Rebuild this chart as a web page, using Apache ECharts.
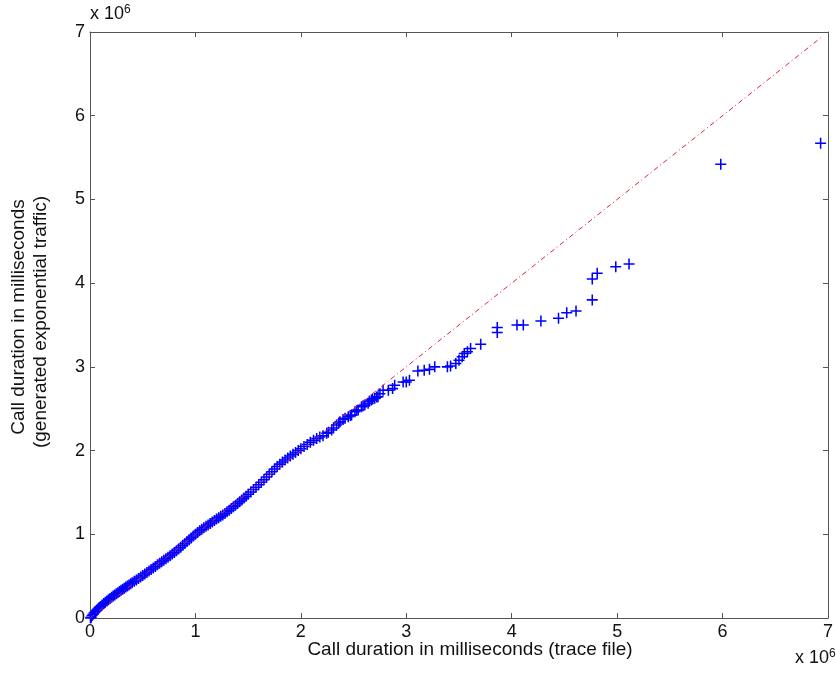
<!DOCTYPE html>
<html>
<head>
<meta charset="utf-8">
<script src="https://cdn.jsdelivr.net/npm/echarts@6/dist/echarts.min.js"></script>
<style>
  html, body { margin: 0; padding: 0; background: #fff; }
  #chart { width: 836px; height: 673px; }
</style>
</head>
<body>
<div id="chart"></div>
<script>
// Quantiles of the trace-file call durations (x 10^6 ms)
var traceQuantiles = [
  0.005, 0.012, 0.020, 0.030, 0.040, 0.050, 0.062, 0.075, 0.088, 0.100,
  0.115, 0.130, 0.145, 0.160, 0.175, 0.190, 0.205, 0.220, 0.235, 0.250,
  0.265, 0.280, 0.295, 0.310, 0.325, 0.340, 0.355, 0.370, 0.385, 0.400,
  0.420, 0.440, 0.460, 0.480, 0.500, 0.520, 0.540, 0.560, 0.580, 0.600,
  0.620, 0.640, 0.660, 0.680, 0.700, 0.720, 0.740, 0.760, 0.780, 0.800,
  0.820, 0.840, 0.860, 0.880, 0.900, 0.920, 0.940, 0.960, 0.980, 1.000,
  1.020, 1.040, 1.060, 1.080, 1.100, 1.120, 1.140, 1.160, 1.180, 1.200,
  1.220, 1.240, 1.260, 1.280, 1.300, 1.320, 1.340, 1.360, 1.380, 1.400,
  1.420, 1.440, 1.460, 1.480, 1.500, 1.525, 1.550, 1.575, 1.600, 1.625,
  1.650, 1.675, 1.700, 1.725, 1.750, 1.775, 1.800, 1.825, 1.850, 1.875,
  1.900, 1.925, 1.950, 1.975, 2.000, 2.030, 2.060, 2.090, 2.120, 2.150,
  2.180, 2.210, 2.245, 2.260, 2.292, 2.310, 2.339, 2.360, 2.371, 2.400,
  2.419, 2.450, 2.470, 2.481, 2.513, 2.530, 2.544, 2.575, 2.590, 2.607,
  2.638, 2.650, 2.669, 2.680, 2.701, 2.720, 2.732, 2.750, 2.780, 2.830,
  2.870, 2.890, 2.970, 3.000, 3.030, 3.110, 3.170, 3.220, 3.270, 3.390,
  3.420, 3.470, 3.500, 3.530, 3.550, 3.580, 3.610, 3.706, 3.863, 3.863,
  4.050, 4.110, 4.277, 4.444, 4.522, 4.610, 4.764, 4.764, 4.811, 4.987,
  5.113, 5.983, 6.930
];

// Matching quantiles of the generated exponential traffic (x 10^6 ms)
var generatedQuantiles = [
  0.000, 0.010, 0.030, 0.045, 0.062, 0.078, 0.092, 0.108, 0.124, 0.138,
  0.155, 0.172, 0.188, 0.204, 0.219, 0.234, 0.248, 0.262, 0.276, 0.290,
  0.303, 0.316, 0.330, 0.343, 0.356, 0.369, 0.382, 0.395, 0.408, 0.421,
  0.438, 0.455, 0.473, 0.490, 0.508, 0.526, 0.544, 0.562, 0.580, 0.598,
  0.616, 0.635, 0.653, 0.672, 0.690, 0.708, 0.726, 0.745, 0.764, 0.783,
  0.803, 0.824, 0.846, 0.868, 0.890, 0.913, 0.935, 0.957, 0.979, 1.000,
  1.021, 1.041, 1.060, 1.078, 1.095, 1.112, 1.130, 1.148, 1.165, 1.182,
  1.198, 1.214, 1.231, 1.249, 1.268, 1.288, 1.308, 1.328, 1.348, 1.368,
  1.389, 1.410, 1.432, 1.455, 1.478, 1.506, 1.535, 1.563, 1.592, 1.622,
  1.652, 1.684, 1.716, 1.748, 1.780, 1.810, 1.838, 1.864, 1.888, 1.912,
  1.934, 1.956, 1.978, 2.000, 2.022, 2.048, 2.072, 2.098, 2.122, 2.144,
  2.162, 2.178, 2.206, 2.220, 2.246, 2.270, 2.306, 2.330, 2.345, 2.370,
  2.386, 2.405, 2.420, 2.425, 2.465, 2.480, 2.485, 2.524, 2.535, 2.545,
  2.565, 2.590, 2.604, 2.615, 2.625, 2.640, 2.644, 2.680, 2.720, 2.720,
  2.740, 2.780, 2.820, 2.820, 2.840, 2.950, 2.960, 2.970, 3.000, 3.000,
  3.010, 3.040, 3.080, 3.120, 3.160, 3.180, 3.220, 3.270, 3.410, 3.470,
  3.500, 3.500, 3.548, 3.580, 3.647, 3.667, 3.800, 4.050, 4.118, 4.197,
  4.229, 5.420, 5.670
];

// Reference line y = x spanning the trace data range
var refLineX = [0, 6.93];
var refLineY = [0, 6.93];

// Axis range and tick step (x 10^6)
var axisMin = 0, axisMax = 7, axisStep = 1;

var qqPoints = traceQuantiles.map(function (x, i) { return [x, generatedQuantiles[i]]; });
var refLine = refLineX.map(function (x, i) { return [x, refLineY[i]]; });

var FONT = '"Liberation Sans", Arial, sans-serif';
var AXIS_COLOR = '#555555';
var PLUS = 'path://M4.3,0h1.4v4.3h4.3v1.4h-4.3v4.3h-1.4v-4.3h-4.3v-1.4h4.3z';

function valueAxis(extra) {
  var base = {
    type: 'value', min: axisMin, max: axisMax, interval: axisStep,
    axisLine: { show: true, onZero: false, lineStyle: { color: AXIS_COLOR, width: 1 } },
    axisTick: { show: true, inside: true, length: 5, lineStyle: { color: AXIS_COLOR } },
    splitLine: { show: false },
    axisLabel: { show: true, color: '#111', fontFamily: FONT, fontSize: 18, margin: 5 }
  };
  for (var k in extra) base[k] = extra[k];
  return base;
}

var supStyle = { fontSize: 12, verticalAlign: 'top', padding: [0, 0, 9, 0], fontFamily: FONT };

var chart = echarts.init(document.getElementById('chart'), null, { renderer: 'canvas' });
chart.setOption({
  backgroundColor: '#fff',
  animation: false,
  grid: { left: 90, right: 3, top: 32, bottom: 55, containLabel: false },
  xAxis: [
    valueAxis({ position: 'bottom' }),
    valueAxis({ position: 'top', axisLabel: { show: false } })
  ],
  yAxis: [
    valueAxis({ position: 'left' }),
    valueAxis({ position: 'right', axisLabel: { show: false } })
  ],
  series: [
    {
      type: 'scatter',
      xAxisIndex: 0, yAxisIndex: 0,
      data: qqPoints,
      symbol: PLUS,
      symbolSize: 11,
      itemStyle: { color: '#0000ff', opacity: 1 },
      z: 2
    },
    {
      type: 'line',
      xAxisIndex: 0, yAxisIndex: 0,
      data: refLine,
      showSymbol: false,
      symbol: 'none',
      lineStyle: { color: '#e0203a', width: 1, type: [5, 3, 1, 3] },
      z: 3
    }
  ],
  graphic: [
    {
      type: 'text', left: 90, top: 4,
      style: { text: 'x 10{sup|6}', fill: '#111', font: '18px ' + FONT, rich: { sup: supStyle } }
    },
    {
      type: 'text', left: 795, top: 648,
      style: { text: 'x 10{sup|6}', fill: '#111', font: '18px ' + FONT, rich: { sup: supStyle } }
    },
    {
      type: 'text', x: 470, y: 650,
      style: {
        text: 'Call duration in milliseconds (trace file)', fill: '#111',
        font: '19px ' + FONT, align: 'center', verticalAlign: 'middle'
      }
    },
    {
      type: 'text', x: 19, y: 317, rotation: Math.PI / 2,
      style: {
        text: 'Call duration in milliseconds', fill: '#111',
        font: '19px ' + FONT, align: 'center', verticalAlign: 'middle'
      }
    },
    {
      type: 'text', x: 41, y: 322, rotation: Math.PI / 2,
      style: {
        text: '(generated exponential traffic)', fill: '#111',
        font: '19px ' + FONT, align: 'center', verticalAlign: 'middle'
      }
    }
  ]
});
</script>
</body>
</html>
